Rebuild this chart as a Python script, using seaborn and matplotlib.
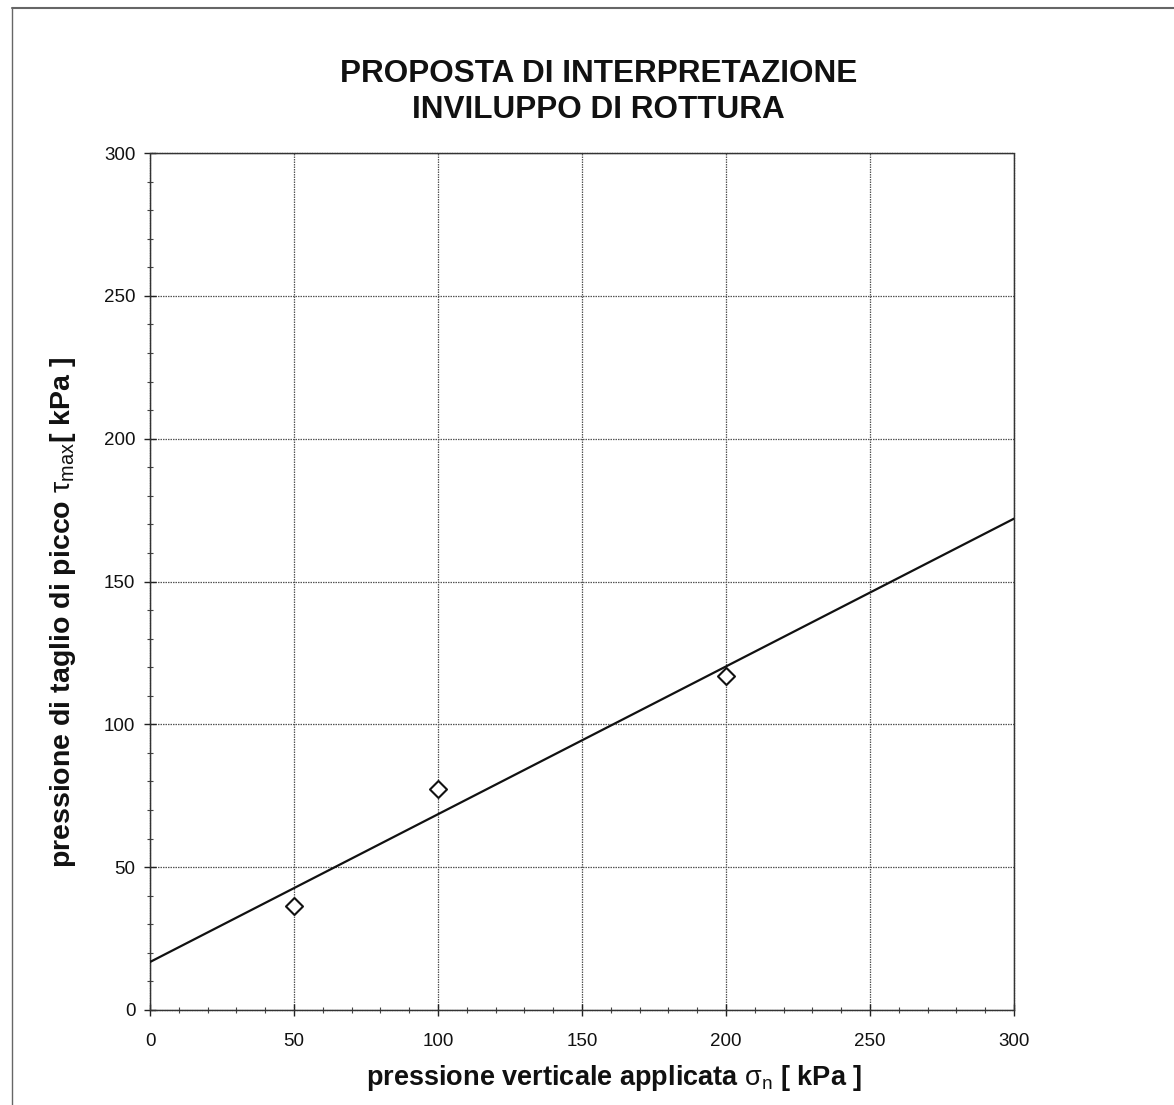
import matplotlib
matplotlib.use("Agg")
import matplotlib.pyplot as plt
from matplotlib.lines import Line2D
from matplotlib.ticker import MultipleLocator
import seaborn as sns
import pandas as pd

# ---- data ----
sigma_n = [50, 100, 200]          # pressione verticale applicata [kPa]
tau_max = [36.5, 77.5, 117.0]     # pressione di taglio di picco [kPa]
fit_x = [0, 300]                  # interpretation envelope, ends
fit_y = [16.8, 172.0]
title_lines = ["PROPOSTA DI INTERPRETAZIONE", "INVILUPPO DI ROTTURA"]
x_ticks = [0, 50, 100, 150, 200, 250, 300]
y_ticks = [0, 50, 100, 150, 200, 250, 300]

sns.set_theme(style="white")
plt.rcParams['font.family'] = ['Liberation Sans', 'DejaVu Sans']
plt.rcParams['mathtext.fontset'] = 'custom'
plt.rcParams['mathtext.rm'] = 'Liberation Sans'
plt.rcParams['mathtext.it'] = 'Liberation Sans:italic'

fig = plt.figure(figsize=(11.74, 11.05), dpi=100)
ax = fig.add_axes([0.1278, 0.086, 0.7359, 0.7755])

pts = pd.DataFrame({"x": sigma_n, "y": tau_max})
fit = pd.DataFrame({"x": fit_x, "y": fit_y})

sns.lineplot(data=fit, x="x", y="y", ax=ax, color="#111111", linewidth=1.6, zorder=3)
sns.scatterplot(data=pts, x="x", y="y", ax=ax, marker="D", s=75,
                facecolor="white", edgecolor="#111111", linewidth=1.5, zorder=4)

ax.set_xlim(0, 300)
ax.set_ylim(0, 300)
ax.set_xticks(x_ticks)
ax.set_yticks(y_ticks)
ax.xaxis.set_minor_locator(MultipleLocator(10))
ax.yaxis.set_minor_locator(MultipleLocator(10))
ax.tick_params(which="major", direction="inout", length=9, width=1.0, color="#222222",
               labelsize=13.5, labelcolor="#111111", bottom=True, left=True)
ax.tick_params(axis="x", which="major", pad=12)
ax.tick_params(axis="y", which="major", pad=6)
ax.tick_params(which="minor", direction="inout", length=4, width=0.8, color="#444444",
               bottom=True, left=True)
ax.grid(True, which="major", color="#555555", linewidth=0.9, linestyle=(0, (1.2, 0.8)))
for s in ax.spines.values():
    s.set_color("#333333")
    s.set_linewidth(1.0)
    s.set_linestyle((0, (1.2, 0.6)))

ax.set_xlabel(r"pressione verticale applicata $\mathrm{σ}$$_{\rm n}$ [ kPa ]",
              fontsize=19.5, fontweight="bold", color="#111111")
ax.xaxis.set_label_coords(0.537, -0.062)
ax.set_ylabel(r"pressione di taglio di picco $\mathrm{τ}_{\rm max}$[ kPa ]",
              fontsize=20.5, fontweight="bold", color="#111111")
ax.yaxis.set_label_coords(-0.083, 0.464)

fig.text(0.510, 0.933, title_lines[0], ha="center", va="center",
         fontsize=22.7, fontweight="bold", color="#111111")
fig.text(0.510, 0.900, title_lines[1], ha="center", va="center",
         fontsize=22.7, fontweight="bold", color="#111111")

# page frame of the scanned document
fig.add_artist(Line2D([12/1174, 12/1174], [0, 1 - 8/1105], transform=fig.transFigure,
                      color="#666666", linewidth=1.0))
fig.add_artist(Line2D([12/1174, 1], [1 - 8/1105, 1 - 8/1105], transform=fig.transFigure,
                      color="#666666", linewidth=1.5))

fig.savefig("out.png", dpi=100, facecolor="white")
